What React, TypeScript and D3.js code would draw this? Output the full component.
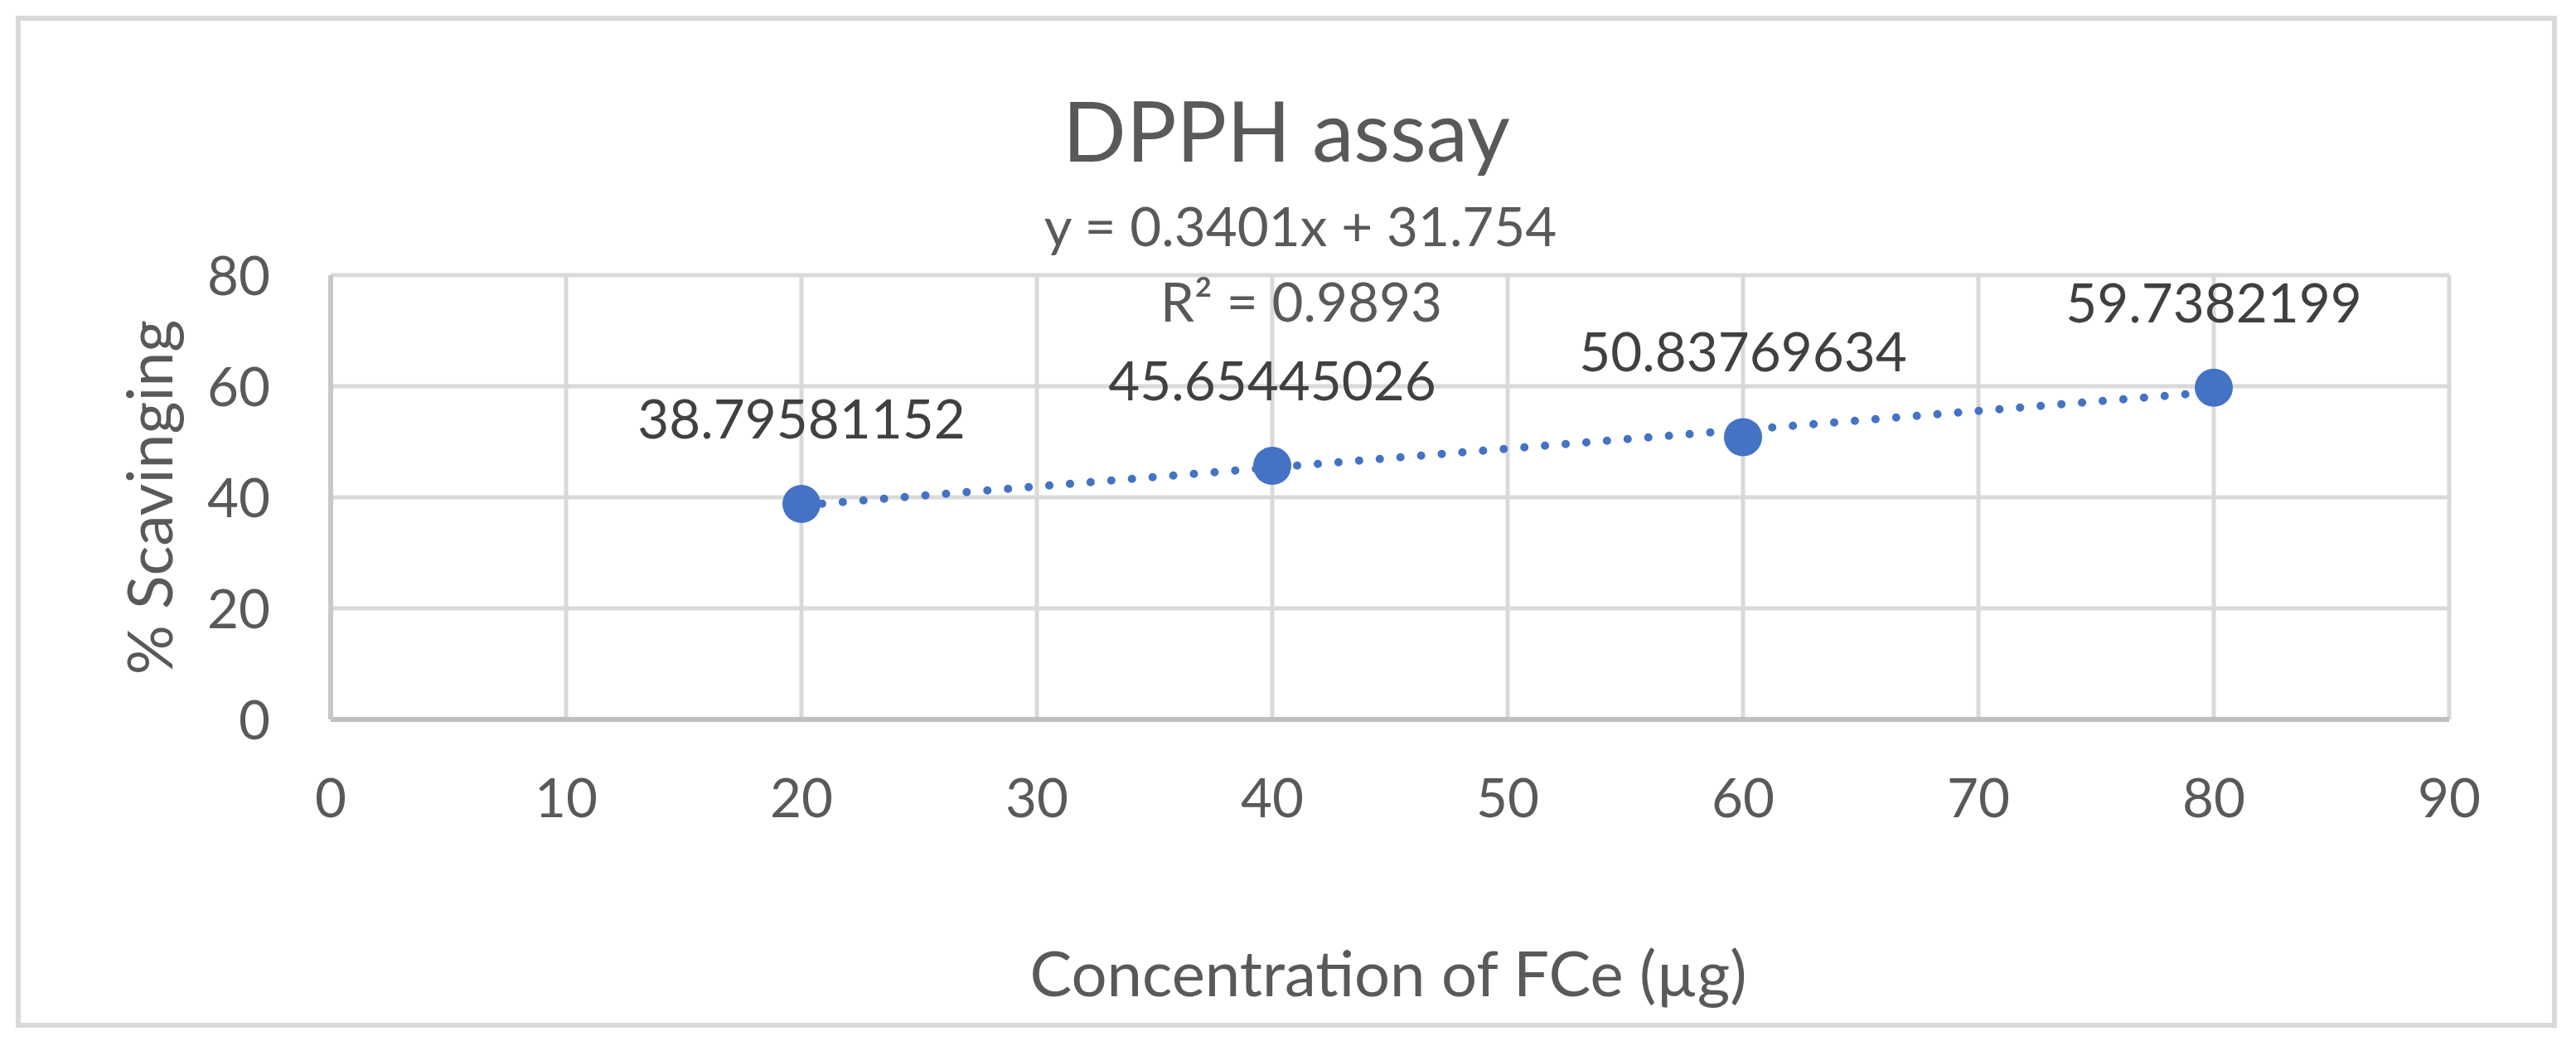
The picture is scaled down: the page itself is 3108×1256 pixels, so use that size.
import React from "react";
import * as d3 from "d3";

const concentrations = [20, 40, 60, 80];
const scavenging = [38.79581152, 45.65445026, 50.83769634, 59.7382199];
const labelTexts = ["38.79581152", "45.65445026", "50.83769634", "59.7382199"];
const xTicks = [0, 10, 20, 30, 40, 50, 60, 70, 80, 90];
const yTicks = [0, 20, 40, 60, 80];
const slope = 0.3401;
const intercept = 31.754;
const rSquared = "0.9893";

const W = 3108;
const H = 1256;
const FONT = "Lato, 'Open Sans', sans-serif";
const TXT = "#595959";
const LBL = "#404040";
const BLUE = "#4472c4";
const GRID = "#d9d9d9";

export default function App() {
  const x = d3.scaleLinear().domain([0, 90]).range([399, 2955]);
  const y = d3.scaleLinear().domain([0, 80]).range([868, 332]);
  const trendX = [d3.min(concentrations)!, d3.max(concentrations)!];
  const line = d3
    .line<number>()
    .x((d) => x(d))
    .y((d) => y(slope * d + intercept));
  const tickFs = 65.5;
  return (
    <svg
      width={W}
      height={H}
      style={{ position: "absolute", left: 0, top: 0, display: "block", background: "#fff" }}
      fontFamily={FONT}
    >
      <rect x={0} y={0} width={W} height={H} fill="#fff" />
      <rect x={22} y={22} width={3060} height={1215} fill="#fff" stroke={GRID} strokeWidth={6} />
      {/* gridlines */}
      {xTicks.map((t) => (
        <line key={"gx" + t} x1={x(t)} x2={x(t)} y1={y(80)} y2={y(0)} stroke={GRID} strokeWidth={5} />
      ))}
      {yTicks.map((t) => (
        <line key={"gy" + t} x1={x(0)} x2={x(90)} y1={y(t)} y2={y(t)} stroke={GRID} strokeWidth={5} />
      ))}
      <line x1={x(0)} x2={x(90)} y1={y(0)} y2={y(0)} stroke="#bfbfbf" strokeWidth={6} />
      <line x1={x(0)} x2={x(0)} y1={y(80)} y2={y(0)} stroke="#c8c8c8" strokeWidth={6} />
      {/* tick labels */}
      {xTicks.map((t) => (
        <text key={"tx" + t} x={x(t)} y={986} textAnchor="middle" fontSize={tickFs} fill={TXT}>
          {t}
        </text>
      ))}
      {yTicks.map((t) => (
        <text key={"ty" + t} x={326} y={y(t) + 23.5} textAnchor="end" fontSize={tickFs} fill={TXT}>
          {t}
        </text>
      ))}
      {/* trendline */}
      <path
        d={line(trendX) || ""}
        fill="none"
        stroke={BLUE}
        strokeWidth={10}
        strokeLinecap="round"
        strokeDasharray="0 25"
      />
      {/* points */}
      {concentrations.map((c, i) => (
        <circle key={"p" + i} cx={x(c)} cy={y(scavenging[i])} r={23} fill={BLUE} />
      ))}
      {/* data labels */}
      {concentrations.map((c, i) => (
        <text
          key={"l" + i}
          x={x(c)}
          y={y(scavenging[i]) - 79}
          textAnchor="middle"
          fontSize={tickFs}
          fill={LBL}
        >
          {labelTexts[i]}
        </text>
      ))}
      {/* trendline label */}
      <text x={1569} y={297} textAnchor="middle" fontSize={tickFs} fill={TXT}>
        {`y = ${slope}x + ${intercept}`}
      </text>
      <text x={1570} y={388} textAnchor="middle" fontSize={tickFs} fill={TXT}>
        {`R² = ${rSquared}`}
      </text>
      {/* title */}
      <text x={1552} y={195} textAnchor="middle" fontSize={101} fill={TXT}>
        DPPH assay
      </text>
      {/* axis titles */}
      <text x={1675} y={1202} textAnchor="middle" fontSize={76} fill={TXT}>
        Concentration of FCe (µg)
      </text>
      <text
        transform={`translate(208, ${(y(0) + y(80)) / 2}) rotate(-90)`}
        textAnchor="middle"
        fontSize={75}
        fill={TXT}
      >
        % Scavinging
      </text>
    </svg>
  );
}
